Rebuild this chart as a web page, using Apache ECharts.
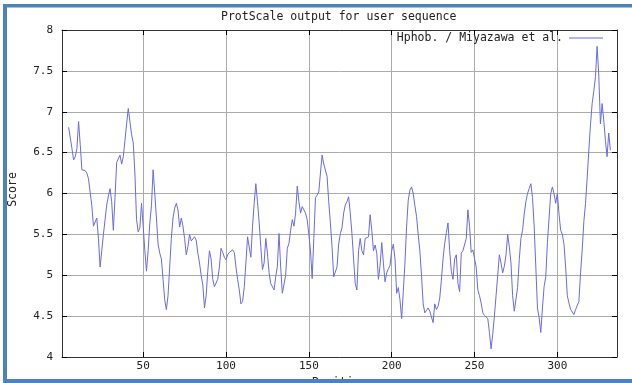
<!DOCTYPE html>
<html>
<head>
<meta charset="utf-8">
<script src="https://cdn.jsdelivr.net/npm/echarts@6/dist/echarts.min.js"></script>
<style>
  html, body { margin: 0; padding: 0; background: #ffffff; overflow: hidden; }
  #chart { width: 632px; height: 383px; }
</style>
</head>
<body>
<div id="chart"></div>
<script>
// Hydrophobicity profile (Miyazawa et al. scale), window averaged, one value per residue position
const firstPosition = 5;
const hydrophobicity = [
  6.81, 6.80, 6.55, 6.41, 6.45, 6.55, 6.88, 6.60, 6.29, 6.29,
  6.28, 6.25, 6.18, 6.20, 5.85, 5.60, 5.60, 5.70, 5.45, 5.10,
  5.30, 5.50, 5.68, 5.86, 5.97, 6.06, 5.90, 5.55, 5.95, 6.38,
  6.37, 6.47, 6.36, 6.45, 6.65, 6.85, 7.04, 7.06, 6.72, 6.62,
  6.25, 5.68, 5.53, 5.58, 5.88, 5.60, 5.30, 5.05, 5.30, 5.64,
  5.85, 6.29, 6.00, 5.70, 5.38, 5.27, 5.20, 4.95, 4.70, 4.58,
  4.75, 5.10, 5.45, 5.70, 5.82, 5.88, 5.80, 5.59, 5.70, 5.60,
  5.45, 5.25, 5.35, 5.50, 5.42, 5.40, 5.47, 5.43, 5.27, 5.15,
  5.00, 4.88, 4.60, 4.75, 5.05, 5.30, 5.20, 4.95, 4.86, 4.86,
  4.95, 5.10, 5.33, 5.28, 5.22, 5.19, 5.25, 5.28, 5.30, 5.31,
  5.28, 5.10, 4.95, 4.82, 4.65, 4.68, 4.85, 5.15, 5.47, 5.45,
  5.22, 5.60, 5.88, 6.12, 5.90, 5.65, 5.35, 5.07, 5.15, 5.45,
  5.27, 5.03, 4.90, 4.92, 4.82, 4.98, 5.11, 5.51, 5.10, 4.78,
  4.76, 5.00, 5.33, 5.39, 5.55, 5.68, 5.60, 5.76, 6.09, 5.90,
  5.76, 5.84, 5.80, 5.76, 5.68, 5.50, 5.30, 4.96, 5.45, 5.95,
  5.98, 6.02, 6.25, 6.47, 6.36, 6.35, 6.21, 5.90, 5.64, 5.35,
  4.98, 4.96, 5.10, 5.38, 5.51, 5.58, 5.76, 5.86, 5.90, 5.96,
  5.76, 5.51, 5.20, 4.90, 4.82, 5.30, 5.45, 5.30, 5.25, 5.45,
  5.45, 5.47, 5.74, 5.55, 5.30, 5.37, 5.27, 4.95, 5.12, 5.40,
  5.15, 4.92, 5.03, 5.08, 5.12, 5.30, 5.38, 5.20, 4.78, 4.85,
  4.70, 4.47, 4.80, 5.15, 5.60, 5.92, 6.04, 6.08, 6.00, 5.85,
  5.72, 5.50, 5.30, 5.00, 4.65, 4.54, 4.57, 4.60, 4.56, 4.54,
  4.42, 4.65, 4.58, 4.62, 4.72, 4.94, 5.20, 5.39, 5.52, 5.64,
  5.30, 5.05, 4.95, 5.20, 5.25, 4.90, 4.80, 5.27, 5.30, 5.28,
  5.45, 5.80, 5.60, 5.28, 5.31, 5.31, 5.10, 4.82, 4.75, 4.66,
  4.54, 4.51, 4.50, 4.47, 4.30, 4.10, 4.28, 4.50, 4.75, 5.00,
  5.25, 5.15, 5.03, 5.11, 5.25, 5.50, 5.35, 5.15, 4.75, 4.56,
  4.55, 4.85, 5.19, 5.45, 5.55, 5.75, 5.90, 6.00, 6.06, 6.12,
  5.95, 5.60, 5.10, 4.60, 4.48, 4.30, 4.60, 4.86, 4.98, 5.40,
  5.70, 6.00, 6.08, 6.00, 5.88, 6.00, 5.75, 5.55, 5.50, 5.38,
  5.10, 4.75, 4.66, 4.58, 4.60, 4.52, 4.58, 4.60, 4.68, 5.03,
  5.31, 5.66, 5.88, 6.19, 6.53, 6.84, 7.10, 7.25, 7.43, 7.80,
  7.45, 6.85, 7.10, 6.90, 6.65, 6.45, 6.74, 6.53
];
const positionTicks = [50, 100, 150, 200, 250, 300];
const seriesName = 'Hphob. / Miyazawa et al.';
const chartTitle = 'ProtScale output for user sequence';

const mono = 'DejaVu Sans Mono';
const textColor = '#222';
const lineColor = '#6a6ae8';
const gridColor = '#ababab';
const frameColor = '#333';
const bandColor = '#4f81bd';

const points = hydrophobicity.map((v, i) => [firstPosition + i, v]);

const xCommon = {
  type: 'value', min: 1, max: 336,
  axisLine: { show: true, onZero: false, lineStyle: { color: frameColor, width: 1 } },
  axisTick: { show: true, inside: true, length: 5, customValues: positionTicks, lineStyle: { color: '#000' } },
};
const yCommon = {
  type: 'value', min: 4, max: 8, interval: 0.5,
  axisLine: { show: true, onZero: false, lineStyle: { color: frameColor, width: 1 } },
  axisTick: { show: true, inside: true, length: 5, lineStyle: { color: '#000' } },
};

const chart = echarts.init(document.getElementById('chart'), null, { renderer: 'canvas' });
chart.setOption({
  animation: false,
  backgroundColor: '#ffffff',
  title: {
    text: chartTitle, left: 221, top: 11, padding: 0,
    textStyle: { fontFamily: mono, fontSize: 11.5, fontWeight: 'normal', color: textColor }
  },
  legend: {
    right: 29, top: 32, padding: 0, align: 'right',
    itemWidth: 34, itemHeight: 1.2, itemGap: 0,
    textStyle: { fontFamily: mono, fontSize: 11.5, color: textColor, padding: [0, 1, 0, 0] },
    data: [{ name: seriesName, icon: 'rect', itemStyle: { color: lineColor } }]
  },
  grid: { left: 62, right: 15, top: 30, bottom: 26, containLabel: false, outerBoundsMode: 'none' },
  xAxis: [
    Object.assign({}, xCommon, {
      position: 'bottom',
      name: 'Position', nameLocation: 'middle', nameGap: 16,
      nameTextStyle: { fontFamily: mono, fontSize: 11.5, color: textColor },
      axisLabel: { show: true, customValues: positionTicks, margin: 4, fontFamily: mono, fontSize: 11, color: textColor },
      splitLine: { show: true, lineStyle: { color: gridColor, width: 1 } }
    }),
    Object.assign({}, xCommon, {
      position: 'top',
      axisLabel: { show: false },
      splitLine: { show: false }
    })
  ],
  yAxis: [
    Object.assign({}, yCommon, {
      position: 'left',
      name: 'Score', nameLocation: 'middle', nameGap: 43, nameRotate: 90,
      nameTextStyle: { fontFamily: mono, fontSize: 11.5, color: textColor, padding: [0, 0, 0, 8] },
      axisLabel: { show: true, margin: 9, fontFamily: mono, fontSize: 11, color: textColor },
      splitLine: { show: true, lineStyle: { color: gridColor, width: 1 } }
    }),
    Object.assign({}, yCommon, {
      position: 'right',
      axisLabel: { show: false },
      splitLine: { show: false }
    })
  ],
  series: [{
    name: seriesName,
    type: 'line',
    data: points,
    showSymbol: false,
    symbol: 'none',
    lineStyle: { color: lineColor, width: 1 },
    itemStyle: { color: lineColor },
    z: 3
  }],
  graphic: [
    { type: 'rect', z: 100, shape: { x: 3, y: 4, width: 629, height: 3.5 }, style: { fill: bandColor } },
    { type: 'rect', z: 100, shape: { x: 3, y: 4, width: 4, height: 379 }, style: { fill: bandColor } },
    { type: 'rect', z: 100, shape: { x: 3, y: 379, width: 629, height: 4 }, style: { fill: bandColor } }
  ]
});
</script>
</body>
</html>
